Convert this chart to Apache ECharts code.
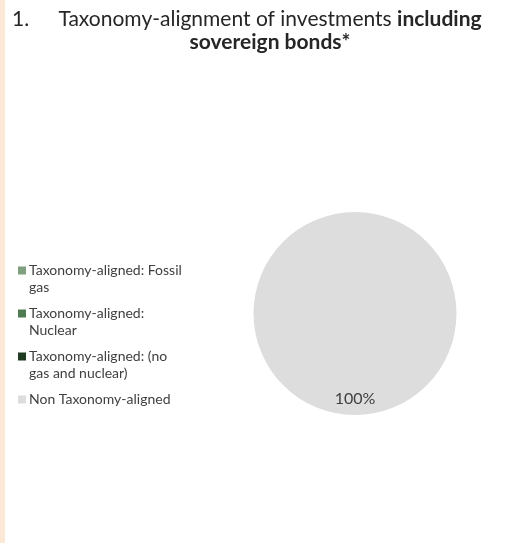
<!DOCTYPE html>
<html>
<head>
<meta charset="utf-8">
<script src="https://cdn.jsdelivr.net/npm/echarts@6/dist/echarts.min.js"></script>
<style>
html,body{margin:0;padding:0;background:#fff;}
#chart{width:529px;height:543px;}
</style>
</head>
<body>
<div id="chart"></div>
<script>
var categories = ['Taxonomy-aligned: Fossil gas', 'Taxonomy-aligned: Nuclear', 'Taxonomy-aligned: (no gas and nuclear)', 'Non Taxonomy-aligned'];
var legendLines = ['Taxonomy-aligned: Fossil\ngas', 'Taxonomy-aligned:\nNuclear', 'Taxonomy-aligned: (no\ngas and nuclear)', 'Non Taxonomy-aligned\n'];
var values = [0, 0, 0, 100];
var colors = ['#7f9f7f', '#4e7b52', '#1f3b20', '#dddddd'];

var chart = echarts.init(document.getElementById('chart'));
var font = 'Lato, "Open Sans", sans-serif';
var titleColor = '#262626';
var textColor = '#404040';
var tSize = 21;

var option = {
  animation: false,
  backgroundColor: '#ffffff',
  color: colors,
  graphic: [{
    type: 'rect', left: 0, top: 0, z: -1,
    shape: {width: 5, height: 543},
    style: {fill: '#fbe9d6'}
  }],
  title: [
    {text: '1.', left: 12, top: 9, padding: 0, textStyle: {fontFamily: font, fontSize: tSize, fontWeight: 'normal', color: titleColor}},
    {text: '{r|Taxonomy-alignment of investments }{b|including}', left: 270, textAlign: 'center', top: 9, padding: 0,
      textStyle: {rich: {
        r: {fontFamily: font, fontSize: tSize, fontWeight: 'normal', color: titleColor},
        b: {fontFamily: font, fontSize: tSize, fontWeight: 'bold', color: titleColor}
      }}},
    {text: 'sovereign bonds*', left: 270, textAlign: 'center', top: 32, padding: 0,
      textStyle: {fontFamily: font, fontSize: tSize, fontWeight: 'bold', color: titleColor}}
  ],
  legend: {
    orient: 'vertical',
    left: 13,
    top: 240,
    itemWidth: 8,
    itemHeight: 8,
    itemGap: -8,
    icon: 'rect',
    selectedMode: false,
    data: categories,
    formatter: function (name) {
      return '\n' + legendLines[categories.indexOf(name)];
    },
    textStyle: {fontFamily: font, fontSize: 14, color: textColor, lineHeight: 17, padding: [0,0,0,-2]}
  },
  series: [{
    type: 'pie',
    center: [355, 313.5],
    radius: [0, 101.5],
    startAngle: 90,
    clockwise: true,
    silent: true,
    data: categories.map(function (c, i) { return {name: c, value: values[i]}; }),
    label: {
      show: true,
      position: 'inside',
      formatter: function (p) { return p.value > 0 ? p.value + '%' : ''; },
      fontFamily: font,
      fontSize: 16,
      color: textColor
    },
    labelLayout: {dy: 32},
    labelLine: {show: false},
    itemStyle: {borderWidth: 0}
  }]
};
chart.setOption(option);
</script>
</body>
</html>
